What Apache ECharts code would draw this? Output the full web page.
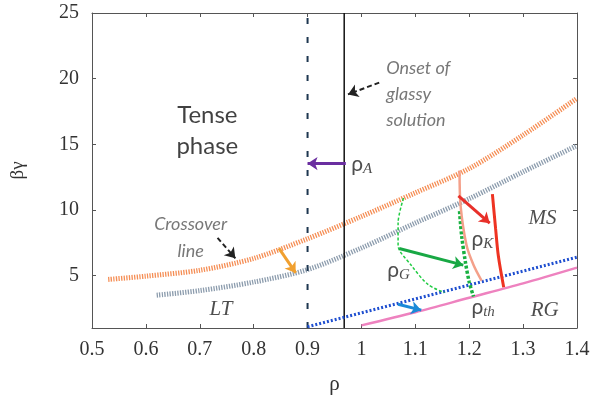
<!DOCTYPE html>
<html>
<head>
<meta charset="utf-8">
<script src="https://cdn.jsdelivr.net/npm/echarts@6/dist/echarts.min.js"></script>
<style>
  html, body { margin: 0; padding: 0; background: #fff; }
  #chart { width: 594px; height: 400px; }
</style>
</head>
<body>
<div id="chart"></div>
<script>
// axis ticks
const xTicks = [0.5, 0.6, 0.7, 0.8, 0.9, 1.0, 1.1, 1.2, 1.3, 1.4]
const yTicks = [5, 10, 15, 20, 25]

// curves [rho, beta*gamma]
const crossoverUpper = [[0.53, 4.7], [0.6, 4.95], [0.7, 5.4], [0.8, 6.3], [0.9, 7.8], [1.0, 9.5], [1.1, 11.3], [1.2, 13.15], [1.3, 15.7], [1.4, 18.5]]
const crossoverLower = [[0.62, 3.5], [0.7, 3.85], [0.8, 4.5], [0.9, 5.45], [1.0, 7.1], [1.1, 9.0], [1.2, 10.85], [1.3, 12.9], [1.4, 14.9]]
const rhoALine = [[0.9, 1], [0.9, 25]]
const glassyOnset = [[0.968, 1], [0.968, 25]]
const blueDotted = [[0.9, 1.1], [1.4, 6.4]]
const rgLine = [[1.0, 1.2], [1.1, 2.2], [1.2, 3.3], [1.3, 4.4], [1.4, 5.6]]
const rhoG = [[1.078, 10.9], [1.068, 9.0], [1.068, 7.3], [1.092, 5.8], [1.124, 4.3], [1.154, 3.7]]
const rhoTh = [[1.182, 9.9], [1.186, 8.0], [1.193, 6.0], [1.2, 4.5], [1.208, 3.4]]
const rhoKLeft = [[1.182, 13.0], [1.184, 10.3], [1.195, 7.3], [1.208, 5.8], [1.223, 4.6]]
const rhoKRight = [[1.243, 11.2], [1.249, 8.55], [1.254, 6.5], [1.264, 4.1]]

// arrows: [from, to]
const arrowPurple = [[0.971, 13.53], [0.9, 13.53]]
const arrowOnset = [[1.033, 19.7], [0.975, 18.8]]
const arrowCrossover = [[0.733, 7.87], [0.766, 6.31]]
const arrowOrange = [[0.847, 7.06], [0.878, 5.2]]
const arrowGreen = [[1.07, 7.06], [1.189, 5.79]]
const arrowRed = [[1.18, 11.07], [1.238, 8.99]]
const arrowBlue = [[1.068, 2.81], [1.111, 2.36]]

// annotations
const centerNotes = [[0.714, 16.03, 'Tense\nphase']]
const italicNotes = [[1.046, 18.8, 'Onset of\nglassy\nsolution']]
const crossNote = [[0.683, 7.91, 'Crossover\nline']]
const rhoNotes = [[0.981, 13.46, 'A'], [1.204, 7.8, 'K'], [1.048, 5.42, 'G'], [1.204, 2.59, 'th']]
const phaseNotes = [[1.31, 9.35, 'MS'], [1.314, 2.36, 'RG'], [0.718, 2.44, 'LT']]

const serif = '"Liberation Serif", "DejaVu Serif", serif'
const sans = 'Lato, "Open Sans", sans-serif'

const chart = echarts.init(document.getElementById('chart'))

const curve = (data, color, width, type, smooth) => ({
  type: 'line',
  data,
  smooth: smooth ? 0.3 : false,
  showSymbol: false,
  silent: true,
  lineStyle: { color, width, type, cap: 'butt' },
  z: 3
})

const arrow = (coords, color, dashed) => ({
  type: 'lines',
  coordinateSystem: 'cartesian2d',
  symbol: ['none', 'arrow'],
  symbolSize: [9, 10],
  silent: true,
  lineStyle: { color, width: dashed ? 2 : 3, type: dashed ? [5, 3] : 'solid', opacity: 1 },
  data: [{ coords }],
  z: 5
})

const notes = (data, label) => ({
  type: 'scatter',
  data,
  symbolSize: 0,
  silent: true,
  label: Object.assign({ show: true, position: [0, 0], verticalAlign: 'middle' }, label),
  z: 6
})

const tickStyle = { show: true, inside: true, length: 4, lineStyle: { color: '#555' } }
const lineStyle = { show: true, lineStyle: { color: '#555', width: 1 } }

chart.setOption({
  animation: false,
  backgroundColor: '#ffffff',
  grid: { left: 92, right: 17, top: 13, bottom: 66 },
  xAxis: [
    {
      type: 'value',
      min: 0.5,
      max: 1.4,
      position: 'bottom',
      name: 'ρ',
      nameLocation: 'middle',
      nameGap: 46,
      nameTextStyle: { fontFamily: serif, fontSize: 21, color: '#333' },
      axisLine: lineStyle,
      axisTick: Object.assign({ customValues: xTicks }, tickStyle),
      axisLabel: {
        customValues: xTicks,
        formatter: v => String(Math.round(v * 10) / 10),
        fontFamily: serif,
        fontSize: 20,
        color: '#333',
        margin: 12
      },
      splitLine: { show: false }
    },
    {
      type: 'value',
      min: 0.5,
      max: 1.4,
      position: 'top',
      axisLine: lineStyle,
      axisTick: Object.assign({ customValues: xTicks }, tickStyle),
      axisLabel: { show: false },
      splitLine: { show: false }
    }
  ],
  yAxis: [
    {
      type: 'value',
      min: 1,
      max: 25,
      position: 'left',
      name: 'βγ',
      nameLocation: 'middle',
      nameGap: 64,
      nameTextStyle: { fontFamily: serif, fontSize: 19, color: '#333' },
      axisLine: lineStyle,
      axisTick: Object.assign({ customValues: yTicks }, tickStyle),
      axisLabel: { customValues: yTicks, fontFamily: serif, fontSize: 20, color: '#333', margin: 13 },
      splitLine: { show: false }
    },
    {
      type: 'value',
      min: 1,
      max: 25,
      position: 'right',
      axisLine: lineStyle,
      axisTick: Object.assign({ customValues: yTicks }, tickStyle),
      axisLabel: { show: false },
      splitLine: { show: false }
    }
  ],
  series: [
    curve(crossoverUpper, '#f58e55', 5, [1.3, 1.3], true),
    curve(crossoverLower, '#8c9cad', 5, [1.3, 1.3], true),
    curve(rhoALine, '#1d3650', 2, [6, 13], false),
    curve(glassyOnset, '#111111', 1.5, 'solid', false),
    curve(blueDotted, '#2050d0', 3, [2, 2], false),
    curve(rgLine, '#ee82bf', 2.5, 'solid', true),
    curve(rhoG, '#22cc44', 1.5, [3, 2], true),
    curve(rhoTh, '#18b040', 3.5, [3, 2], true),
    curve(rhoKLeft, '#f4a08a', 2.5, 'solid', true),
    curve(rhoKRight, '#ee3322', 3, 'solid', true),
    arrow(arrowPurple, '#6a2ea0', false),
    arrow(arrowOnset, '#222222', true),
    arrow(arrowCrossover, '#222222', true),
    arrow(arrowOrange, '#f0a030', false),
    arrow(arrowGreen, '#18a844', false),
    arrow(arrowRed, '#e8302a', false),
    arrow(arrowBlue, '#1a8ad8', false),
    notes(centerNotes, {
      formatter: p => p.data[2], align: 'center',
      fontFamily: sans, fontSize: 24, lineHeight: 31, color: '#111'
    }),
    notes(italicNotes, {
      formatter: p => p.data[2], align: 'left',
      fontFamily: sans, fontStyle: 'italic', fontSize: 18, lineHeight: 26, color: '#555'
    }),
    notes(crossNote, {
      formatter: p => p.data[2], align: 'center',
      fontFamily: sans, fontStyle: 'italic', fontSize: 18, lineHeight: 27, color: '#555'
    }),
    notes(rhoNotes, {
      formatter: p => '{r|ρ}{s|' + p.data[2] + '}', align: 'left',
      rich: {
        r: { fontFamily: sans, fontSize: 21, color: '#222' },
        s: { fontFamily: serif, fontStyle: 'italic', fontSize: 15, color: '#222', padding: [10, 0, 0, 0] }
      }
    }),
    notes(phaseNotes, {
      formatter: p => p.data[2], align: 'left',
      fontFamily: serif, fontStyle: 'italic', fontSize: 21, color: '#222'
    })
  ]
})
</script>
</body>
</html>
